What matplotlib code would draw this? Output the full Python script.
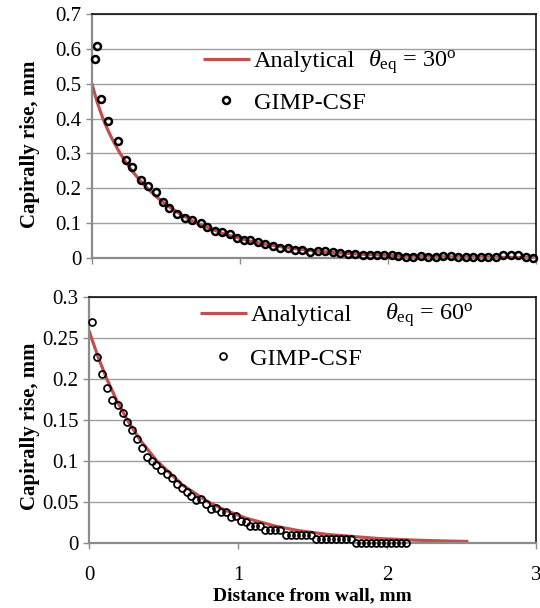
import matplotlib
matplotlib.use("Agg")
import matplotlib.pyplot as plt
from matplotlib.ticker import FuncFormatter, MultipleLocator

plt.rcParams["font.family"] = ["Liberation Serif", "DejaVu Serif"]
plt.rcParams["mathtext.fontset"] = "custom"
plt.rcParams["mathtext.rm"] = "Liberation Serif"
plt.rcParams["mathtext.it"] = "Liberation Serif:italic"

# ---- theta_eq = 30 deg ----
theta_30 = "30"
sim30_x = [0.018, 0.034, 0.061, 0.110, 0.173, 0.227, 0.273, 0.331, 0.381, 0.435,
           0.482, 0.518, 0.572, 0.628, 0.676, 0.734, 0.778, 0.828, 0.880, 0.931,
           0.978, 1.025, 1.070, 1.122, 1.172, 1.223, 1.272, 1.322, 1.372, 1.421,
           1.473, 1.525, 1.574, 1.626, 1.676, 1.727, 1.779, 1.829, 1.876, 1.923,
           1.973, 2.025, 2.070, 2.122, 2.171, 2.221, 2.273, 2.324, 2.374, 2.423,
           2.475, 2.527, 2.577, 2.626, 2.678, 2.730, 2.779, 2.829, 2.880, 2.930,
           2.978]
sim30_h = [0.570, 0.608, 0.456, 0.394, 0.336, 0.282, 0.260, 0.223, 0.207, 0.189,
           0.160, 0.143, 0.127, 0.116, 0.109, 0.100, 0.088, 0.078, 0.074, 0.068,
           0.056, 0.052, 0.052, 0.047, 0.041, 0.034, 0.030, 0.030, 0.024, 0.022,
           0.018, 0.020, 0.020, 0.016, 0.015, 0.012, 0.011, 0.008, 0.010, 0.009,
           0.008, 0.008, 0.007, 0.002, 0.003, 0.007, 0.002, 0.002, 0.006, 0.006,
           0.003, 0.003, 0.003, 0.003, 0.003, 0.003, 0.008, 0.008, 0.008, 0.003,
           0.001]
ana30_x = [0.0, 0.016, 0.033, 0.053, 0.074, 0.099, 0.126, 0.157, 0.190, 0.229,
           0.271, 0.319, 0.374, 0.437, 0.511, 0.600, 0.709, 0.886, 1.053, 1.164,
           1.308, 1.510, 1.654, 1.857, 2.203, 2.459, 2.662, 2.805, 3.0]
ana30_h = [0.500, 0.475, 0.450, 0.425, 0.400, 0.375, 0.350, 0.325, 0.300, 0.275,
           0.250, 0.225, 0.200, 0.175, 0.150, 0.125, 0.100, 0.070, 0.050, 0.040,
           0.030, 0.020, 0.015, 0.010, 0.005, 0.003, 0.002, 0.0015, 0.001]

# ---- theta_eq = 60 deg ----
theta_60 = "60"
sim60_x = [0.022, 0.054, 0.087, 0.121, 0.157, 0.193, 0.226, 0.255, 0.289, 0.320,
           0.354, 0.387, 0.421, 0.452, 0.485, 0.523, 0.555, 0.588, 0.622, 0.656,
           0.687, 0.720, 0.752, 0.783, 0.817, 0.852, 0.884, 0.919, 0.951, 0.987,
           1.018, 1.052, 1.081, 1.114, 1.148, 1.181, 1.215, 1.248, 1.282, 1.322,
           1.356, 1.389, 1.423, 1.456, 1.490, 1.523, 1.557, 1.590, 1.624, 1.658,
           1.691, 1.725, 1.758, 1.792, 1.826, 1.859, 1.893, 1.926, 1.960, 1.993,
           2.027, 2.060, 2.094, 2.128]
sim60_h = [0.269, 0.226, 0.206, 0.189, 0.174, 0.168, 0.158, 0.147, 0.137, 0.126,
           0.116, 0.105, 0.100, 0.095, 0.089, 0.084, 0.079, 0.072, 0.067, 0.062,
           0.057, 0.052, 0.053, 0.047, 0.041, 0.042, 0.037, 0.037, 0.031, 0.032,
           0.026, 0.025, 0.020, 0.020, 0.020, 0.015, 0.015, 0.015, 0.015, 0.010,
           0.010, 0.010, 0.010, 0.010, 0.010, 0.005, 0.005, 0.005, 0.005, 0.005,
           0.005, 0.005, 0.005, 0.000, 0.000, 0.000, 0.000, 0.000, 0.000, 0.000,
           0.000, 0.000, 0.000, 0.000]
ana60_x = [0.0, 0.016, 0.064, 0.119, 0.182, 0.256, 0.344, 0.454, 0.630, 0.798,
           0.909, 1.052, 1.255, 1.399, 1.601, 1.948, 2.203, 2.406, 2.546]
ana60_h = [0.259, 0.250, 0.225, 0.200, 0.175, 0.150, 0.125, 0.100, 0.070, 0.050,
           0.040, 0.030, 0.020, 0.015, 0.010, 0.005, 0.003, 0.002, 0.0015]

RED = "#C0504D"
AXIS_GRAY = "#8C8C8C"
GRID_GRAY = "#A0A0A0"

fig = plt.figure(figsize=(5.4, 6.08), dpi=100)
W, H = 540.0, 608.0

panels = [
    dict(rect=[92 / W, 1 - 258 / H, 444 / W, 244 / H], ymax=0.7, ystep=0.1,
         xs=sim30_x, hs=sim30_h, ax_x=ana30_x, ax_h=ana30_h, theta=theta_30,
         leg_anchor=(0.25, 0.7213), spacing=0.8, theta_pos=(0.6216, 0.785),
         ms=5.0, mew=1.8, ylab_pos=(-0.1396, 0.467), xlabels=False),
    dict(rect=[89 / W, 1 - 542.7 / H, 447 / W, 246 / H], ymax=0.3, ystep=0.05,
         xs=sim60_x, hs=sim60_h, ax_x=ana60_x, ax_h=ana60_h, theta=theta_60,
         leg_anchor=(0.248, 0.836), spacing=0.9, theta_pos=(0.662, 0.905),
         ms=5.0, mew=1.25, ylab_pos=(-0.132, 0.475), xlabels=True),
]

for p in panels:
    ax = fig.add_axes(p["rect"])
    ax.set_xlim(0, 3)
    ax.set_ylim(0, p["ymax"])
    ax.xaxis.set_major_locator(MultipleLocator(1))
    ax.yaxis.set_major_locator(MultipleLocator(p["ystep"]))
    ax.yaxis.set_major_formatter(FuncFormatter(lambda v, pos: f"{v:g}"))
    ax.xaxis.set_major_formatter(FuncFormatter(lambda v, pos: f"{v:g}"))

    ax.grid(axis="y", color=GRID_GRAY, lw=1.0)
    ax.set_axisbelow(True)

    for side in ("top", "right"):
        ax.spines[side].set_color("black")
        ax.spines[side].set_linewidth(1.1)
    for side in ("left", "bottom"):
        ax.spines[side].set_color(AXIS_GRAY)
        ax.spines[side].set_linewidth(1.6)

    ax.tick_params(axis="y", direction="out", length=4, width=1.0, color=AXIS_GRAY,
                   pad=3.5, labelsize=15, labelcolor="black")
    ax.tick_params(axis="x", direction="out", length=4, width=1.0, color=AXIS_GRAY,
                   pad=13, labelsize=15, labelcolor="black",
                   labelbottom=p["xlabels"])

    ax.plot(p["ax_x"], p["ax_h"], color=RED, lw=2.3, zorder=2,
            label="Analytical", solid_capstyle="butt")
    ax.plot(p["xs"], p["hs"], ls="none", marker="o", ms=p["ms"], mew=p["mew"],
            mfc="none", mec="black", zorder=3, clip_on=False, label="GIMP-CSF")

    ax.legend(loc="center left", bbox_to_anchor=p["leg_anchor"], frameon=False,
              fontsize=17.5, handlelength=1.93, handletextpad=0.15,
              labelspacing=p["spacing"], borderpad=0, borderaxespad=0, numpoints=1)

    ax.text(p["theta_pos"][0], p["theta_pos"][1],
            r"$\theta_{\mathrm{eq}}$ = " + p["theta"] + r"$^{\mathrm{o}}$",
            transform=ax.transAxes, fontsize=17.5, ha="left", va="baseline")

    ax.set_ylabel("Capirally rise, mm", fontsize=15, fontweight="bold", va="center")
    ax.yaxis.set_label_coords(*p["ylab_pos"])

    if p["xlabels"]:
        ax.set_xlabel("Distance from wall, mm", fontsize=14, fontweight="bold",
                      va="center")
        ax.xaxis.set_label_coords(0.5, -0.2167)

fig.savefig("out.png", dpi=100)
